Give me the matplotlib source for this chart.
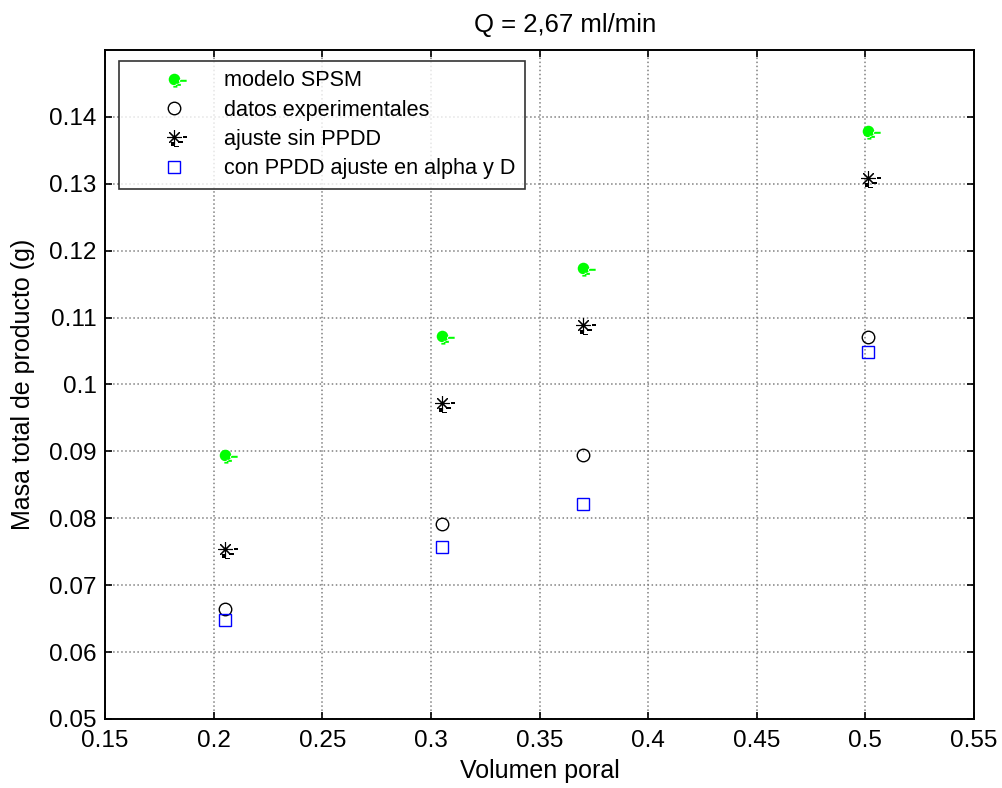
import numpy as np
import matplotlib.pyplot as plt
from matplotlib.path import Path

plt.rcParams['font.family'] = ['Liberation Sans', 'DejaVu Sans']

# volumen poral (x) y masa total (y) para cada serie
vol_poral = [0.205, 0.305, 0.370, 0.501]
masa_spsm = [0.0894, 0.1072, 0.1174, 0.1379]
masa_exp = [0.0664, 0.0792, 0.0894, 0.1071]
masa_sin_ppdd = [0.0754, 0.0972, 0.1089, 0.1309]
masa_con_ppdd = [0.0648, 0.0757, 0.0821, 0.1049]

etiquetas = ['modelo SPSM', 'datos experimentales', 'ajuste sin PPDD',
             'con PPDD ajuste en alpha y D']
xticks = [0.15, 0.2, 0.25, 0.3, 0.35, 0.4, 0.45, 0.5, 0.55]
yticks = [0.05, 0.06, 0.07, 0.08, 0.09, 0.1, 0.11, 0.12, 0.13, 0.14]


def rect(x0, x1, y0, y1):
    return Path([(x0, y0), (x1, y0), (x1, y1), (x0, y1), (x0, y0)],
                [Path.MOVETO, Path.LINETO, Path.LINETO, Path.LINETO, Path.CLOSEPOLY])


def marcador(partes, ext=2.4):
    # los vertices extremos fijan la escala comun de todos los marcadores
    p = Path.make_compound_path(*partes)
    v = np.vstack([p.vertices, [[ext, ext], [-ext, -ext]]])
    c = np.concatenate([p.codes, [Path.MOVETO, Path.MOVETO]])
    return Path(v, c)


circ = Path.circle((0, 0), 1.0)
m_spsm = marcador([circ, rect(0.8, 2.1, -0.05, -0.4), rect(0.2, 1.1, -0.75, -1.1),
                   rect(-0.2, 0.5, -1.1, -1.4)])
m_rayas = marcador([rect(1.5, 2.3, 0.15, -0.15), rect(-0.45, 0.25, -0.8, -1.5),
                    rect(0.05, 0.8, -1.5, -1.8), rect(0.7, 1.5, -0.7, -1.0)])
tam = 20

fig = plt.figure(figsize=(10.03, 7.88), dpi=100)
ax = fig.add_axes([0.1047, 0.0876, 0.8664, 0.849])

h1, = ax.plot(vol_poral, masa_spsm, linestyle='none', marker=m_spsm,
              markersize=tam, color='#00ff00', markeredgewidth=0)
h2, = ax.plot(vol_poral, masa_exp, linestyle='none', marker='o', markersize=9,
              markerfacecolor='none', markeredgecolor='k', markeredgewidth=1)
h3a, = ax.plot(vol_poral, masa_sin_ppdd, linestyle='none', marker=(8, 2, 0),
               markersize=10.5, color='k', markeredgewidth=0.8)
h3b, = ax.plot(vol_poral, masa_sin_ppdd, linestyle='none', marker=m_rayas,
               markersize=tam, color='k', markeredgewidth=0)
h4, = ax.plot(vol_poral, masa_con_ppdd, linestyle='none', marker='s', markersize=9,
              markerfacecolor='none', markeredgecolor='b', markeredgewidth=1)

ax.set_xlim(0.15, 0.55)
ax.set_ylim(0.05, 0.15)
ax.set_xticks(xticks)
ax.set_yticks(yticks)
ax.set_xticklabels([('%g' % t) for t in xticks])
ax.set_yticklabels([('%g' % t) for t in yticks])
ax.tick_params(direction='in', top=True, right=True, length=5, width=1.2,
               labelsize=17.5)
ax.tick_params(axis='x', pad=8)
ax.tick_params(axis='y', pad=6)
for s in ax.spines.values():
    s.set_linewidth(1.4)
ax.grid(True, linestyle=':', color='#808080', linewidth=1.1)

ax.set_title('Q = 2,67 ml/min', fontsize=18.5, pad=13, x=0.53)
ax.set_xlabel('Volumen poral', fontsize=18, labelpad=5)
ax.set_ylabel('Masa total de producto (g)', fontsize=18, labelpad=10)

leg = ax.legend([h1, h2, (h3a, h3b), h4], etiquetas, loc='upper left',
                bbox_to_anchor=(0.016, 0.984), fontsize=15.6, frameon=True,
                fancybox=False, edgecolor='k', borderpad=0.45, labelspacing=0.38,
                handletextpad=0.25, handlelength=4.15, borderaxespad=0)
leg.get_frame().set_linewidth(1.2)

fig.savefig('out.png', dpi=100)
